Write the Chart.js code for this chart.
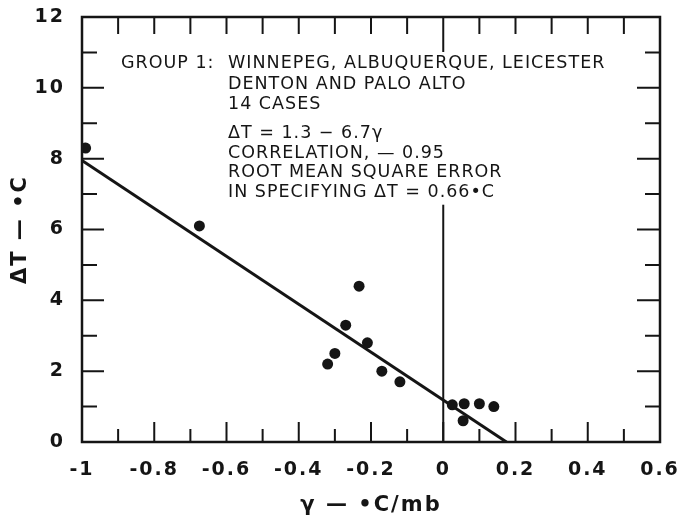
<!DOCTYPE html>
<html>
<head>
<meta charset="utf-8">
<script src="https://cdn.jsdelivr.net/npm/chart.js@4.4.1/dist/chart.umd.min.js"></script>
<style>
  html, body { margin: 0; padding: 0; background: #fff; }
  #wrap { width: 680px; height: 522px; }
</style>
</head>
<body>
<div id="wrap"><canvas id="myChart" width="680" height="522"></canvas></div>
<script>
// observed cases (gamma in °C/mb, delta T in °C)
const gammaVals = [-0.99, -0.675, -0.233, -0.27, -0.21, -0.30, -0.32, -0.17, -0.12, 0.025, 0.058, 0.055, 0.10, 0.14];
const deltaTVals = [8.3, 6.1, 4.4, 3.3, 2.8, 2.5, 2.2, 2.0, 1.7, 1.05, 1.08, 0.6, 1.08, 1.0];

// fitted line dT = 1.3 - 6.7 gamma, as drawn
const fitX = [-1, 0.175];
const fitY = [7.95, 0];

// vertical reference line at gamma = 0
const zeroX = [0, 0];
const zeroY = [0, 6.7];

const xTickLabels = [-1, -0.8, -0.6, -0.4, -0.2, 0, 0.2, 0.4, 0.6];
const xMinorTicks = [-0.9, -0.7, -0.5, -0.3, -0.1, 0.1, 0.3, 0.5];
const yTickLabels = [0, 2, 4, 6, 8, 10, 12];
const yMinorTicks = [1, 3, 5, 7, 9, 11];

const noteLines = [
  "DENTON AND PALO ALTO",
  "14 CASES",
];
const fitNotes = [
  "\u0394T = 1.3 \u2212 6.7\u03b3",
  "CORRELATION, \u2014 0.95",
  "ROOT MEAN SQUARE ERROR",
  "IN SPECIFYING \u0394T = 0.66\u2022C",
];

const ink = "#151515";

// wider lettering for the axis text, like the hand-lettered original
const spacingPlugin = {
  id: "spacing",
  beforeUpdate(chart) { chart.ctx.letterSpacing = "2px"; },
  beforeDraw(chart) { chart.ctx.letterSpacing = "2px"; },
};

const framePlugin = {
  id: "frame",
  afterDraw(chart) {
    const { ctx, chartArea: a, scales } = chart;
    const xs = scales.x, ys = scales.y;
    ctx.save();
    ctx.strokeStyle = ink;
    ctx.lineWidth = 2.5;
    ctx.strokeRect(a.left, a.top, a.right - a.left, a.bottom - a.top);

    ctx.lineWidth = 2;
    ctx.beginPath();
    // bottom and top ticks
    xTickLabels.concat(xMinorTicks).forEach((v) => {
      const px = xs.getPixelForValue(v);
      if (px <= a.left + 1 || px >= a.right - 1) return;
      const major = xTickLabels.includes(v);
      ctx.moveTo(px, a.bottom);
      ctx.lineTo(px, a.bottom - (major ? 20 : 13));
      ctx.moveTo(px, a.top);
      ctx.lineTo(px, a.top + (v === 0 ? 35 : 17));
    });
    // left and right ticks
    yTickLabels.concat(yMinorTicks).forEach((v) => {
      const py = ys.getPixelForValue(v);
      if (py <= a.top + 1 || py >= a.bottom - 1) return;
      const major = yTickLabels.includes(v);
      ctx.moveTo(a.left, py);
      ctx.lineTo(a.left + (major ? 22 : 15), py);
      ctx.moveTo(a.right, py);
      ctx.lineTo(a.right - (major ? 23 : 15), py);
    });
    ctx.stroke();

    // annotation block
    ctx.fillStyle = ink;
    ctx.font = "17.5px 'DejaVu Sans'";
    ctx.letterSpacing = "1px";
    ctx.textBaseline = "alphabetic";
    ctx.textAlign = "left";
    const x0 = a.left + 39, x1 = a.left + 146;
    ctx.fillText("GROUP 1:", x0, a.top + 51);
    ctx.fillText("WINNEPEG, ALBUQUERQUE, LEICESTER", x1, a.top + 51);
    noteLines.forEach((t, i) => ctx.fillText(t, x1, a.top + 72 + i * 19.5));
    fitNotes.forEach((t, i) => ctx.fillText(t, x1, a.top + 121 + i * 19.5));
    ctx.restore();
  },
};

const ctx = document.getElementById("myChart").getContext("2d");

const myChart = new Chart(ctx, {
  type: "scatter",
  data: {
    datasets: [
      {
        label: "cases",
        data: gammaVals.map((g, i) => ({ x: g, y: deltaTVals[i] })),
        pointRadius: 5.5,
        pointBackgroundColor: ink,
        pointBorderColor: ink,
        pointBorderWidth: 0,
      },
      {
        label: "fit",
        data: fitX.map((g, i) => ({ x: g, y: fitY[i] })),
        showLine: true,
        borderColor: ink,
        borderWidth: 3,
        pointRadius: 0,
      },
      {
        label: "zero",
        data: zeroX.map((g, i) => ({ x: g, y: zeroY[i] })),
        showLine: true,
        borderColor: ink,
        borderWidth: 2,
        pointRadius: 0,
      },
    ],
  },
  options: {
    responsive: false,
    animation: false,
    layout: {
      padding: { top: 17, right: 20, bottom: 0, left: 0 },
    },
    scales: {
      x: {
        type: "linear",
        min: -1,
        max: 0.6,
        afterFit: (scale) => {
          scale.height = 80;
          scale.paddingLeft = 0;
          scale.paddingRight = 0;
        },
        afterBuildTicks: (scale) => {
          scale.ticks = xTickLabels.map((v) => ({ value: v }));
        },
        grid: { display: false, drawTicks: false },
        border: { display: false },
        ticks: {
          color: ink,
          padding: 17,
          font: { family: "'DejaVu Sans'", size: 19, weight: "bold" },
          callback: (value) => String(Math.round(value * 10) / 10),
        },
        title: {
          display: true,
          text: "\u03b3 \u2014 \u2022C/mb",
          color: ink,
          font: { family: "'DejaVu Sans'", size: 21, weight: "bold" },
          padding: { top: 0, bottom: 4 },
        },
      },
      y: {
        type: "linear",
        min: 0,
        max: 12,
        afterFit: (scale) => {
          scale.width = 82;
          scale.paddingTop = 0;
          scale.paddingBottom = 0;
        },
        afterBuildTicks: (scale) => {
          scale.ticks = yTickLabels.map((v) => ({ value: v }));
        },
        grid: { display: false, drawTicks: false },
        border: { display: false },
        ticks: {
          color: ink,
          padding: 17,
          font: { family: "'DejaVu Sans'", size: 19, weight: "bold" },
        },
        title: {
          display: true,
          text: "\u0394T \u2014 \u2022C",
          color: ink,
          font: { family: "'DejaVu Sans'", size: 21, weight: "bold" },
          padding: { top: 8, bottom: 0 },
        },
      },
    },
    plugins: {
      legend: { display: false },
      tooltip: { enabled: false },
    },
  },
  plugins: [spacingPlugin, framePlugin],
});
</script>
</body>
</html>
